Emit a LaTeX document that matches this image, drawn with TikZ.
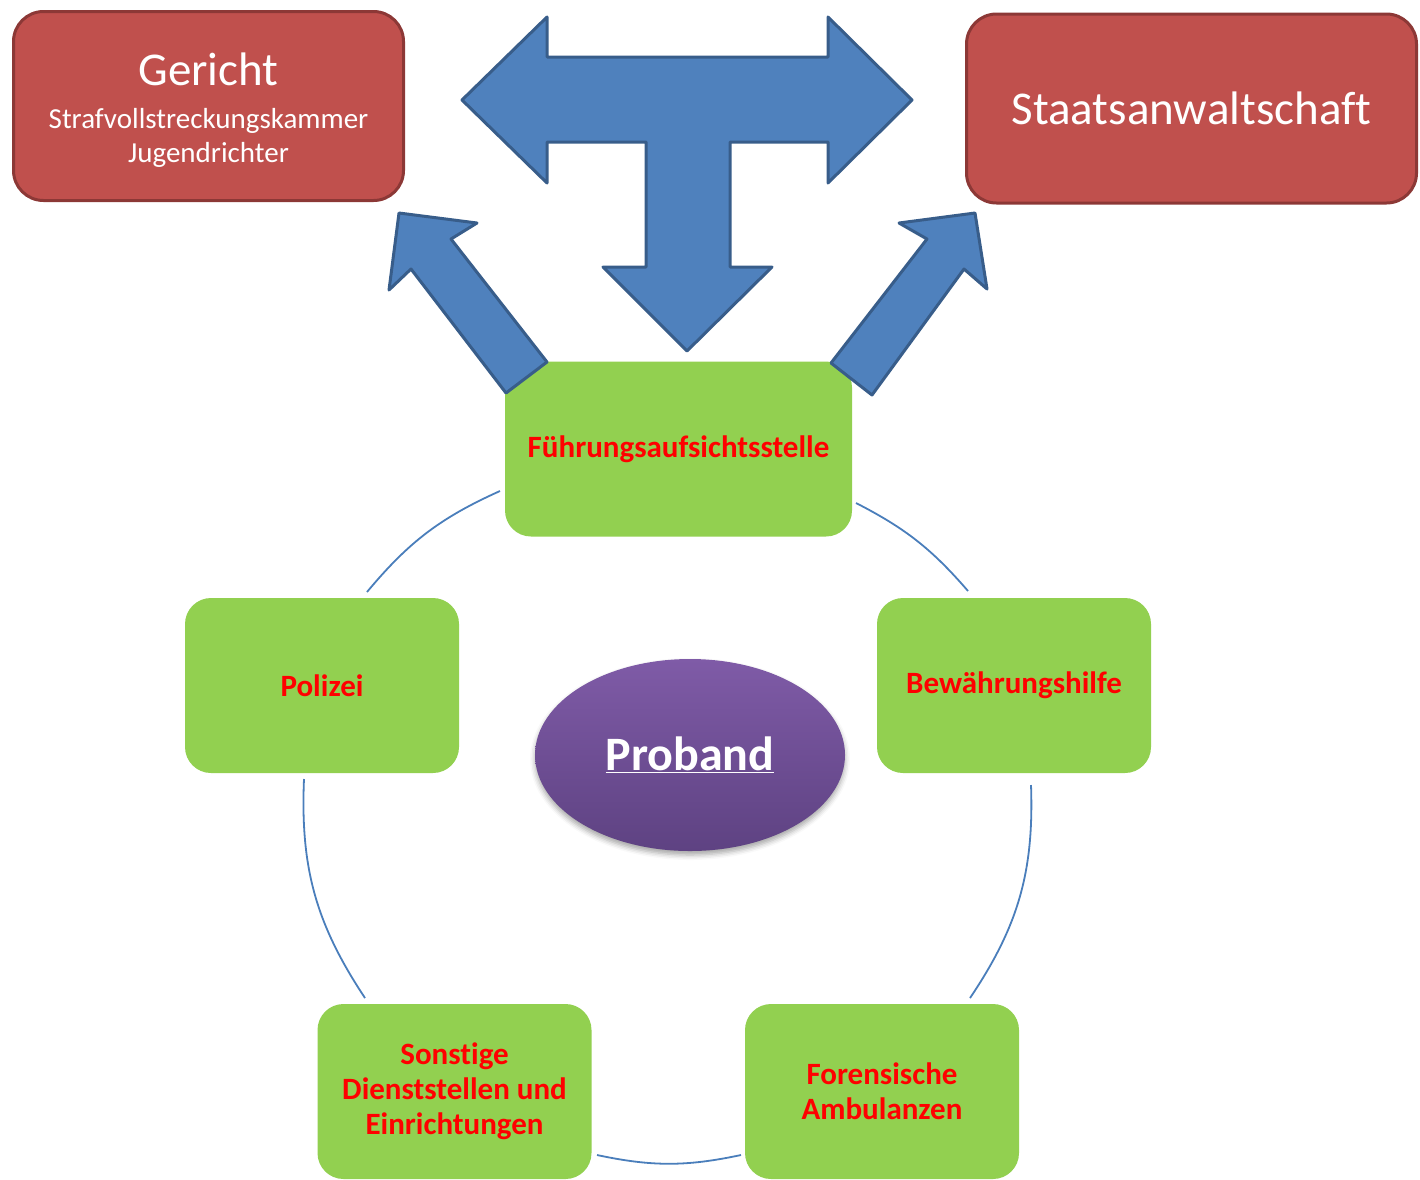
\documentclass[tikz,border=0pt]{standalone}
\usepackage{fontspec}
\setmainfont{Carlito}[Ligatures={NoCommon,NoContextual}]
\usetikzlibrary{shapes.geometric,shadows,shadows.blur}
\definecolor{courtred}{HTML}{C0504D}
\definecolor{courtline}{HTML}{8C3836}
\definecolor{arrowblue}{HTML}{4F81BD}
\definecolor{arrowline}{HTML}{385D8A}
\definecolor{officegreen}{HTML}{92D050}
\definecolor{ringblue}{HTML}{4A7EBB}
\definecolor{probtop}{HTML}{7F5BA7}
\definecolor{probbottom}{HTML}{5E4282}
\begin{document}
\begin{tikzpicture}[x=1pt,y=-1pt,
	court/.style={draw=courtline,line width=3pt,fill=courtred,rounded corners=30pt,text=white,align=center,minimum height=189pt,inner sep=0pt},
	office/.style={fill=officegreen,rounded corners=26pt,text=red,align=center,minimum width=274pt,minimum height=175pt,inner sep=0pt,font=\fontsize{31}{35}\selectfont\bfseries},
	blockarrow/.style={draw=arrowline,line width=3pt,fill=arrowblue,line join=round},
	ring/.style={draw=ringblue,line width=1.8pt,bend left=#1}]
	\useasboundingbox (0,0) rectangle (1420,1179);
	\clip (0,0) rectangle (1420,1179);
	\node[court,minimum width=390pt,font=\fontsize{29}{34}\selectfont] (gericht) at (208.5,106) {\rule{0pt}{41pt}{\fontsize{47}{47}\selectfont Gericht}\\[9pt] Strafvollstreckungskammer\\ Jugendrichter};
	\node[court,minimum width=450pt,font=\fontsize{47}{56}\selectfont] (staatsanw) at (1191.5,108.5) {Staatsanwaltschaft};
	\node[office,minimum width=347pt] (fas) at (678.5,449) {Führungsaufsichtsstelle};
	\node[office] (polizei) at (322,685.5) {Polizei};
	\node[office] (bwh) at (1014,685.5) {Bewährungshilfe};
	\node[office] (sonstige) at (454.5,1091.5) {Sonstige\\ Dienststellen und\\ Einrichtungen};
	\node[office] (forensik) at (882,1091.5) {Forensische\\ Ambulanzen};
	\node[ellipse,minimum width=310pt,minimum height=192pt,inner sep=0pt,top color=probtop,bottom color=probbottom,
		blur shadow={shadow xshift=0pt,shadow yshift=-4pt,shadow blur radius=5pt,shadow opacity=35},
		text=white,font=\fontsize{48}{48}\selectfont\bfseries] (proband) at (690,755) {\underline{Proband}};
	\coordinate (fasR) at (856,503); \coordinate (bwhT) at (968,591);
	\coordinate (bwhB) at (1031,785); \coordinate (forT) at (970,998);
	\coordinate (forL) at (741,1155); \coordinate (sonR) at (597,1155);
	\coordinate (sonT) at (365,998); \coordinate (polB) at (304,779);
	\coordinate (polT) at (367,592); \coordinate (fasL) at (500,491);
	\foreach \s/\e/\b in {fasR/bwhT/11,bwhB/forT/18,forL/sonR/12,sonT/polB/18,polT/fasL/13}
	\draw[ring=\b] (\s) to (\e);
	\draw[blockarrow] (462,100) -- (547,17) -- (547,57) -- (828,57) -- (828,17) -- (912,100) -- (828,183) -- (828,142) -- (730,142) -- (730,267) -- (772,267) -- (687,351) -- (603,267) -- (646,267) -- (646,142) -- (547,142) -- (547,183) -- cycle;
	\draw[blockarrow] (399,213) -- (477,223) -- (451,239) -- (547,362) -- (506,393) -- (411,269) -- (389,290) -- cycle;
	\draw[blockarrow] (975,213) -- (899,223) -- (927,239) -- (831,363) -- (872,395) -- (964,269) -- (987,289) -- cycle;
\end{tikzpicture}
\end{document}
